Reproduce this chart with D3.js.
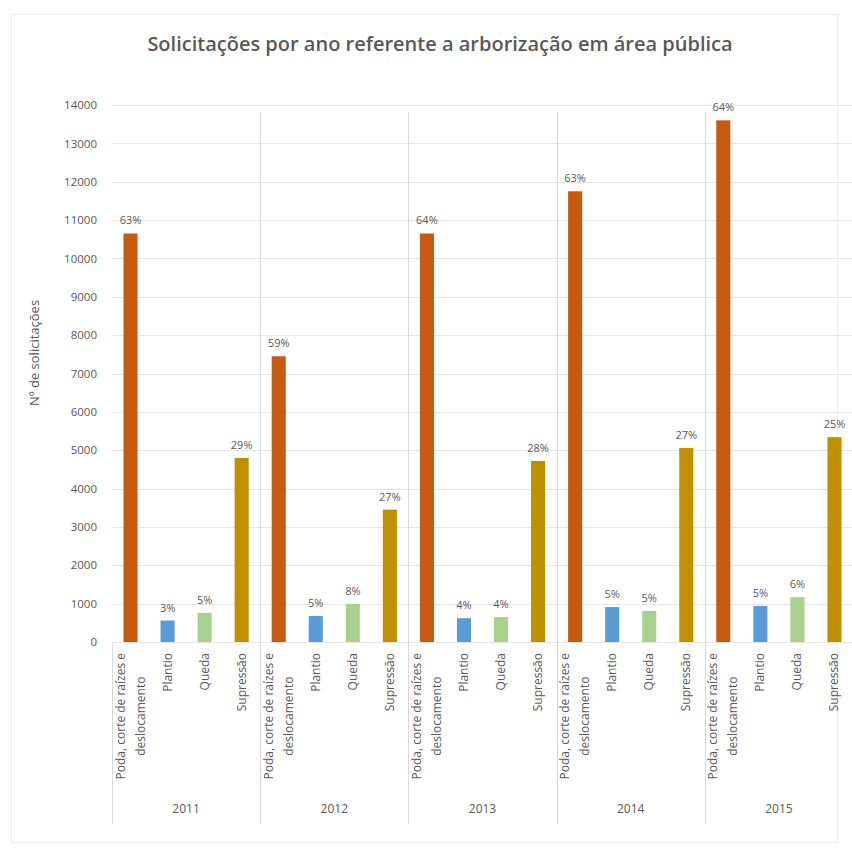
<!DOCTYPE html>
<html>
<head>
<meta charset="utf-8">
<script src="https://cdn.jsdelivr.net/npm/d3@7"></script>
<style>
  body { margin: 0; background: #fff; }
  text { font-family: "Open Sans", "Liberation Sans", sans-serif; fill: #595959; }
</style>
</head>
<body>
<div id="chart"></div>
<script>
// chart size
const width = 852;
const height = 852;
const margin = {left: 112, right: 0, top: 105, bottom: 210};

// data
const years = ["2011", "2012", "2013", "2014", "2015"];
const categories = ["Poda", "Plantio", "Queda", "Supressão"];
const catLabels = [["Poda, corte de raízes e", "deslocamento"], ["Plantio"], ["Queda"], ["Supressão"]];
const poda = [10650, 7450, 10650, 11750, 13600];
const plantio = [560, 680, 620, 910, 940];
const queda = [760, 990, 650, 810, 1170];
const supressao = [4800, 3450, 4720, 5060, 5340];
const pctPoda = ["63%", "59%", "64%", "63%", "64%"];
const pctPlantio = ["3%", "5%", "4%", "5%", "5%"];
const pctQueda = ["5%", "8%", "4%", "5%", "6%"];
const pctSupressao = ["29%", "27%", "28%", "27%", "25%"];
const yTicks = d3.range(0, 14001, 1000);
const colors = ["#C55A11", "#5B9BD5", "#A9D18E", "#BF9000"];

const series = [poda, plantio, queda, supressao];
const pcts = [pctPoda, pctPlantio, pctQueda, pctSupressao];
const rows = [];
years.forEach((y, i) => {
  categories.forEach((c, j) => {
    rows.push({year: y, cat: c, ci: j, value: series[j][i], pct: pcts[j][i]});
  });
});

const svg = d3.select("#chart")
  .append("svg")
  .attr("width", width)
  .attr("height", height);

// faint frame of the chart area
svg.append("rect")
  .attr("x", 11.5).attr("y", 14.5)
  .attr("width", 826).attr("height", 828)
  .attr("fill", "none")
  .attr("stroke", "#ededed");

const yScale = d3.scaleLinear()
  .domain([0, 14000])
  .range([height - margin.bottom, margin.top]);

const xYear = d3.scaleBand()
  .domain(years)
  .range([margin.left, 853]);

const xCat = d3.scaleBand()
  .domain(categories)
  .range([0, xYear.bandwidth()])
  .paddingInner(0.62)
  .paddingOuter(0.31);

// gridlines
svg.append("g")
  .selectAll("line")
  .data(yTicks)
  .enter()
  .append("line")
    .attr("x1", margin.left)
    .attr("x2", 853)
    .attr("y1", d => Math.round(yScale(d)) + 0.5)
    .attr("y2", d => Math.round(yScale(d)) + 0.5)
    .attr("stroke", "#e6e6e6");

// y axis labels
const yAxis = svg.append("g")
  .attr("transform", `translate(${margin.left - 12}, 0)`)
  .call(d3.axisLeft(yScale).tickValues(yTicks).tickSize(0).tickFormat(d3.format("d")));
yAxis.select(".domain").remove();
yAxis.selectAll("text")
  .attr("font-size", "11.5px")
  .attr("fill", "#595959")
  .style("font-family", "'Open Sans', sans-serif");

// separators between years
svg.append("g")
  .selectAll("line")
  .data(years.concat(["end"]))
  .enter()
  .append("line")
    .attr("x1", (d, i) => Math.round(margin.left + i * xYear.step()) + 0.5)
    .attr("x2", (d, i) => Math.round(margin.left + i * xYear.step()) + 0.5)
    .attr("y1", (d, i) => i === 0 ? yScale(0) : 112)
    .attr("y2", 824)
    .attr("stroke", "#d9d9d9");

// bars
svg.append("g")
  .selectAll(".bar")
  .data(rows)
  .enter()
  .append("rect")
    .attr("class", "bar")
    .attr("x", d => xYear(d.year) + xCat(d.cat))
    .attr("y", d => yScale(d.value))
    .attr("width", xCat.bandwidth())
    .attr("height", d => yScale(0) - yScale(d.value))
    .attr("fill", d => colors[d.ci]);

// percentage labels
svg.append("g")
  .selectAll("text")
  .data(rows)
  .enter()
  .append("text")
    .attr("x", d => xYear(d.year) + xCat(d.cat) + xCat.bandwidth() / 2)
    .attr("y", d => yScale(d.value) - 9)
    .attr("text-anchor", "middle")
    .attr("font-size", "11px")
    .text(d => d.pct);

// category labels (rotated, block aligned to top, lines centred in block)
const labelTop = 653;
rows.forEach(d => {
  const cx = xYear(d.year) + xCat(d.cat) + xCat.bandwidth() / 2;
  const lines = catLabels[d.ci];
  const nodes = lines.map((t, k) => {
    const lx = cx + 4 + (k - (lines.length - 1) / 2) * 20;
    return svg.append("text")
      .attr("font-size", "12px")
      .attr("text-anchor", "middle")
      .attr("data-x", lx)
      .text(t);
  });
  const longest = d3.max(nodes, n => n.node().getComputedTextLength());
  const mid = labelTop + longest / 2;
  nodes.forEach(n => {
    n.attr("transform", `translate(${n.attr("data-x")}, ${mid}) rotate(-90)`);
  });
});

// year labels
svg.append("g")
  .selectAll("text")
  .data(years)
  .enter()
  .append("text")
    .attr("x", d => xYear(d) + xYear.bandwidth() / 2)
    .attr("y", 813)
    .attr("text-anchor", "middle")
    .attr("font-size", "12px")
    .text(d => d);

// y axis title
svg.append("text")
  .attr("transform", `translate(39, 353) rotate(-90)`)
  .attr("text-anchor", "middle")
  .attr("font-size", "13px")
  .text("Nº de solicitações");

// chart title
svg.append("text")
  .attr("x", 440)
  .attr("y", 51)
  .attr("text-anchor", "middle")
  .attr("font-size", "20px")
  .attr("font-weight", "600")
  .text("Solicitações por ano referente a arborização em área pública");
</script>
</body>
</html>
